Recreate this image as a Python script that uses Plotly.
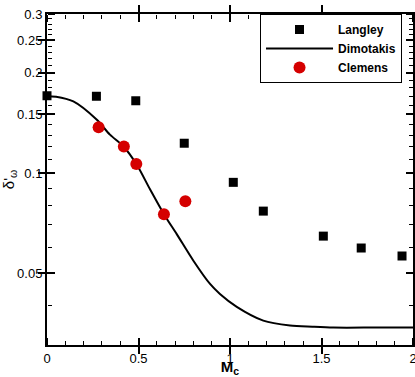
import plotly.graph_objects as go

# Langley data (squares)
langley_mc = [0.0, 0.27, 0.485, 0.75, 1.018, 1.182, 1.51, 1.717, 1.94]
langley_d = [0.1706, 0.170, 0.1648, 0.1229, 0.0938, 0.0769, 0.0647, 0.0596, 0.0564]

# Clemens data (circles)
clemens_mc = [0.282, 0.42, 0.488, 0.639, 0.756]
clemens_d = [0.1372, 0.1201, 0.1064, 0.0753, 0.0823]

# Dimotakis curve
dimo_mc = [0.0, 0.05, 0.144, 0.271, 0.344, 0.417, 0.49, 0.563, 0.639, 0.709,
           0.8, 0.891, 0.945, 1.037, 1.182, 1.328, 1.45, 1.565, 1.8, 2.0]
dimo_d = [0.170, 0.1695, 0.164, 0.1447, 0.1304, 0.1204, 0.1061, 0.0894, 0.0753, 0.0656,
          0.0546, 0.0465, 0.0434, 0.0397, 0.0361, 0.0349, 0.0346, 0.0344, 0.0344, 0.0344]

x_ticks = [0, 0.5, 1, 1.5, 2]
x_ticklabels = ["0", "0.5", "1", "1.5", "2"]
y_ticks = [0.05, 0.1, 0.15, 0.2, 0.25, 0.3]
y_ticklabels = ["0.05", "0.1", "0.15", "0.2", "0.25", "0.3"]

font = "Liberation Sans, Arial, Helvetica, sans-serif"
x_range = [0, 2]
y_range = [-1.5157, -0.5228]

fig = go.Figure()
fig.add_trace(go.Scatter(x=langley_mc, y=langley_d, mode="markers", name="Langley",
                         cliponaxis=False,
                         marker=dict(symbol="square", size=9, color="black")))
fig.add_trace(go.Scatter(x=dimo_mc, y=dimo_d, mode="lines", name="Dimotakis",
                         line=dict(color="black", width=2, shape="spline", smoothing=0.8)))
fig.add_trace(go.Scatter(x=clemens_mc, y=clemens_d, mode="markers", name="Clemens",
                         cliponaxis=False,
                         marker=dict(symbol="circle", size=12, color="#d50000")))
# empty traces that only carry the tick-mark axes (ticks pointing into the frame)
for xa, ya in [("x3", "y"), ("x4", "y"), ("x", "y3"), ("x", "y4")]:
    fig.add_trace(go.Scatter(x=[], y=[], xaxis=xa, yaxis=ya, showlegend=False,
                             hoverinfo="skip", mode="markers"))

axis_common = dict(showline=True, linecolor="black", linewidth=2, mirror="allticks",
                   ticks="inside", ticklen=7, tickwidth=2, tickcolor="black",
                   showgrid=False, zeroline=False, automargin=False,
                   ticklabeloverflow="allow",
                   tickfont=dict(family=font, size=13, color="black"))

tick_common = dict(ticks="outside", ticklen=7, tickwidth=2, tickcolor="black",
                   showline=False, showticklabels=False, showgrid=False, zeroline=False,
                   automargin=False, anchor="free")

x_minor = dict(tick0=0, dtick=0.1, ticks="outside", ticklen=4, tickwidth=1, tickcolor="black")
y_minor = dict(tick0=0, dtick="L0.01", ticks="outside", ticklen=4, tickwidth=1, tickcolor="black")

fig.update_layout(
    xaxis=dict(range=x_range, tickvals=x_ticks, ticktext=x_ticklabels,
               title=dict(text="<b>M<sub>c</sub></b>",
                          font=dict(family=font, size=15, color="black"), standoff=8),
               **axis_common),
    yaxis=dict(type="log", range=y_range, tickvals=y_ticks, ticktext=y_ticklabels,
               title=dict(text="δ'<sub>ω</sub>",
                          font=dict(family=font, size=15, color="black"), standoff=0),
               **axis_common),
    # bottom edge, ticks pointing up
    xaxis3=dict(overlaying="x", position=0, side="top", range=x_range,
                tickmode="linear", tick0=0, dtick=0.5, minor=x_minor, **tick_common),
    # top edge, ticks pointing down
    xaxis4=dict(overlaying="x", position=1, side="bottom", range=x_range,
                tickmode="linear", tick0=0, dtick=0.5, minor=x_minor, **tick_common),
    # left edge, ticks pointing right
    yaxis3=dict(overlaying="y", position=0, side="right", type="log", range=y_range,
                tickmode="linear", tick0=0, dtick="L0.05", minor=y_minor, **tick_common),
    # right edge, ticks pointing left
    yaxis4=dict(overlaying="y", position=1, side="left", type="log", range=y_range,
                tickmode="linear", tick0=0, dtick="L0.05", minor=y_minor, **tick_common),
)

fig.update_layout(
    width=415, height=377,
    margin=dict(l=47, r=2, t=14, b=32),
    plot_bgcolor="white", paper_bgcolor="white",
    legend=dict(x=0.97, y=1.0, xanchor="right", yanchor="top",
                bgcolor="white", bordercolor="black", borderwidth=1,
                font=dict(family=font, size=12, color="black", weight="bold"),
                tracegroupgap=0, itemwidth=67),
    showlegend=True,
)

fig.write_html("out.html", config={"displayModeBar": False},
               post_script="document.body.style.margin='0';document.body.style.padding='0';")
